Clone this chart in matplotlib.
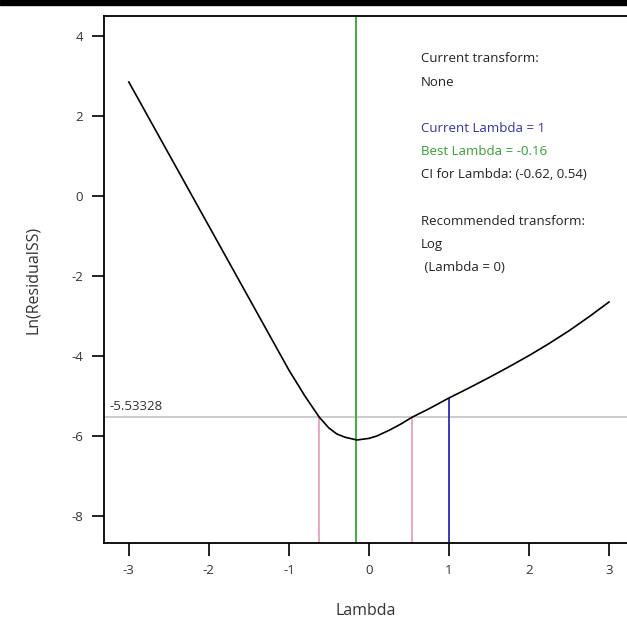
import numpy as np
import matplotlib.pyplot as plt
from matplotlib.patches import Rectangle

# Box-Cox curve
lam = [-3.0, -2.5, -2.0, -1.5, -1.0, -0.8, -0.62, -0.5, -0.4, -0.3, -0.15,
       0.0, 0.1, 0.26, 0.4, 0.54, 0.75, 1.0, 1.25, 1.5, 1.75, 2.0, 2.25,
       2.5, 2.75, 3.0]
ln_ss = [2.85, 1.05, -0.75, -2.55, -4.35, -5.0, -5.53, -5.8, -5.95, -6.03, -6.1,
         -6.06, -6.0, -5.85, -5.7, -5.53, -5.32, -5.05, -4.8, -4.54, -4.27, -3.99, -3.69,
         -3.37, -3.02, -2.65]

ci_level = -5.53328
best_lambda = -0.16
current_lambda = 1
ci_low, ci_high = -0.62, 0.54

xticks = [-3, -2, -1, 0, 1, 2, 3]
yticks = [-8, -6, -4, -2, 0, 2, 4]

info_lines = [
    ("Current transform:", "#222222"),
    ("None", "#222222"),
    ("", "#222222"),
    ("Current Lambda = 1", "#3333aa"),
    ("Best Lambda = -0.16", "#33a033"),
    ("CI for Lambda: (-0.62, 0.54)", "#222222"),
    ("", "#222222"),
    ("Recommended transform:", "#222222"),
    ("Log", "#222222"),
    (" (Lambda = 0)", "#222222"),
]

plt.rcParams["font.family"] = ["Open Sans", "DejaVu Sans"]
plt.rcParams["axes.unicode_minus"] = False

fig = plt.figure(figsize=(6.27, 6.18), dpi=100)
ax = fig.add_axes([104 / 627, 75 / 618, 1 - 104 / 627, (543 - 16) / 618])

ax.set_xlim(-3.31, 3.225)
ax.set_ylim(-8.675, 4.5)

ax.axhline(ci_level, color="#c4c4c4", lw=1.2, zorder=1)
ax.axvline(best_lambda, color="#2ea82e", lw=1.3, zorder=2)

cur_y = np.interp(current_lambda, lam, ln_ss)
ax.vlines([ci_low, ci_high], -8.675, ci_level, color="#e89aaa", lw=1.2, zorder=2)
ax.vlines(current_lambda, -8.675, cur_y, color="#2b2bb0", lw=1.3, zorder=2)

ax.plot(lam, ln_ss, color="black", lw=1.2, zorder=3)

ax.annotate("-5.53328", xy=(-3.31, ci_level), xytext=(4, 3), textcoords="offset points",
            fontsize=9.5, color="#333333", va="bottom", ha="left")

for i, (txt, col) in enumerate(info_lines):
    ax.text(421 / 627, 1 - (59 + i * 23.2) / 618, txt, transform=fig.transFigure,
            fontsize=9.5, color=col, va="center", ha="left")

ax.set_xticks(xticks)
ax.set_yticks(yticks)
ax.tick_params(direction="out", length=9, width=1.4, labelsize=9.5, colors="#222222",
               labelcolor="#333333", pad=6)
for side in ["left", "bottom", "top"]:
    ax.spines[side].set_linewidth(1.3)
ax.spines["right"].set_visible(False)

ax.set_xlabel("Lambda", fontsize=11.5, color="#333333", labelpad=19)
ax.set_ylabel("Ln(ResidualSS)", fontsize=11.5, color="#333333", labelpad=22)

fig.patches.append(Rectangle((0, 1 - 5 / 618), 1, 5 / 618, transform=fig.transFigure,
                             color="black", zorder=10))

fig.savefig("out.png", dpi=100)
